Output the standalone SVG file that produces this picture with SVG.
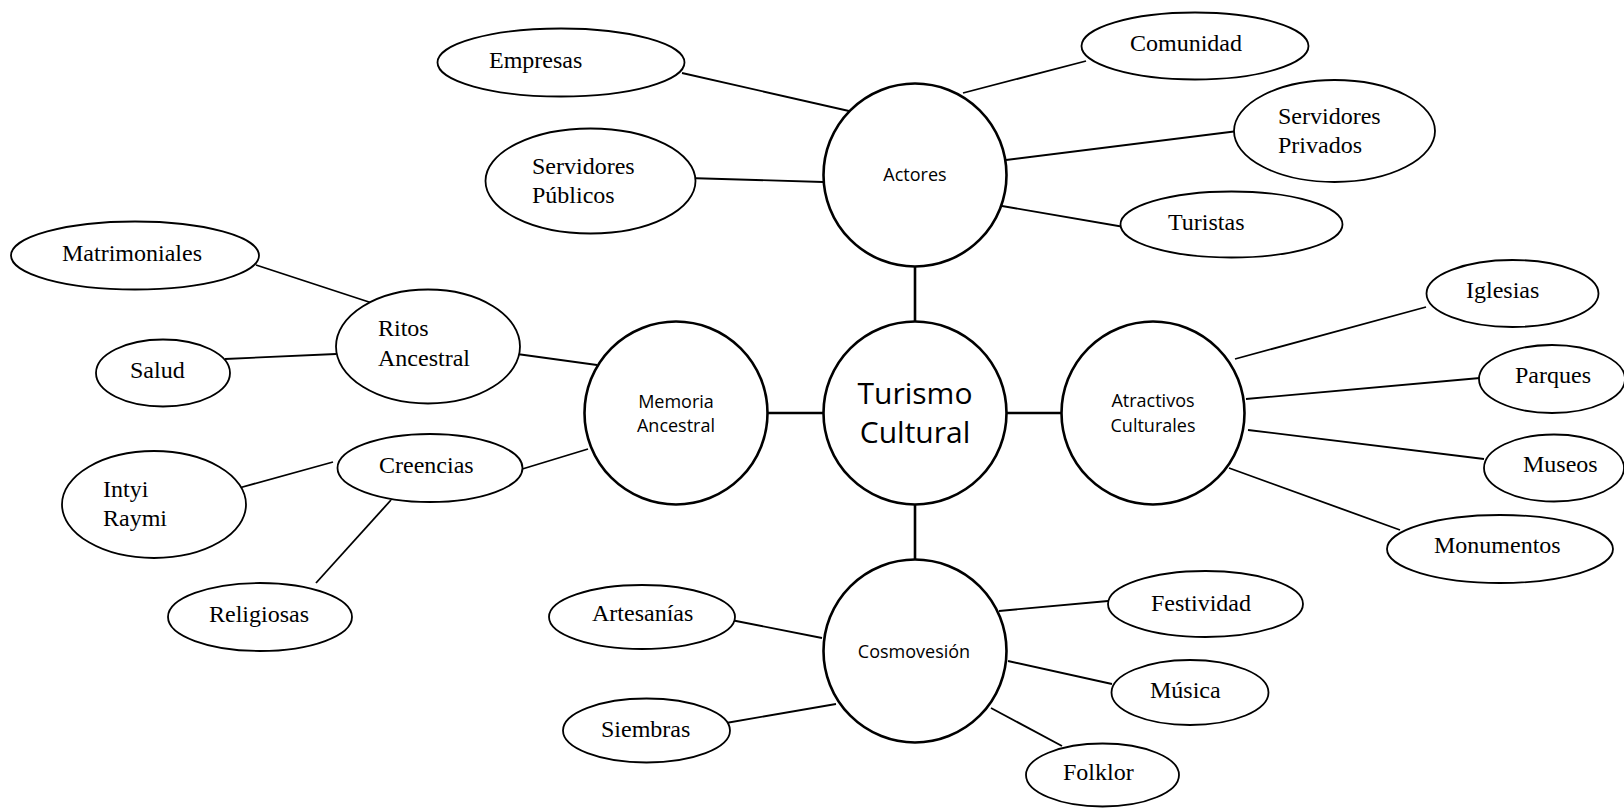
<svg xmlns="http://www.w3.org/2000/svg" width="1624" height="808" viewBox="0 0 1624 808">
<style>
.big{fill:#fff;stroke:#000;stroke-width:2.6}
.sm{fill:#fff;stroke:#000;stroke-width:1.8}
.c{stroke:#000;stroke-width:1.8;fill:none}
.cb{stroke:#000;stroke-width:2.6;fill:none}
.s{font-family:"Open Sans","Noto Sans",sans-serif;font-size:18px;fill:#000;text-anchor:middle}
.t{font-family:"Liberation Serif","Times New Roman",serif;font-size:24px;fill:#000}
.h{font-family:"Open Sans","Noto Sans",sans-serif;font-size:30px;fill:#000;text-anchor:middle}
</style>
<rect width="1624" height="808" fill="#fff"/>
<g id="connectors">
<line class="cb" x1="915" y1="266" x2="915" y2="322"/>
<line class="cb" x1="915" y1="505" x2="915" y2="560"/>
<line class="cb" x1="767" y1="413" x2="823" y2="413"/>
<line class="cb" x1="1006" y1="413" x2="1061" y2="413"/>
<line class="c" x1="682" y1="73" x2="849" y2="111"/>
<line class="c" x1="688" y1="178" x2="823" y2="182"/>
<line class="c" x1="963" y1="93" x2="1086" y2="61"/>
<line class="c" x1="1006" y1="160" x2="1238" y2="131"/>
<line class="c" x1="1002" y1="206" x2="1130" y2="228"/>
<line class="c" x1="1235" y1="359" x2="1426" y2="307"/>
<line class="c" x1="1246" y1="399" x2="1480" y2="378"/>
<line class="c" x1="1248" y1="430" x2="1484" y2="459"/>
<line class="c" x1="1229" y1="468" x2="1400" y2="530"/>
<line class="c" x1="999" y1="611" x2="1108" y2="601"/>
<line class="c" x1="1008" y1="661" x2="1112" y2="684"/>
<line class="c" x1="991" y1="708" x2="1062" y2="746"/>
<line class="c" x1="731" y1="620" x2="822" y2="638"/>
<line class="c" x1="726" y1="723" x2="836" y2="704"/>
<line class="c" x1="256" y1="265" x2="372" y2="303"/>
<line class="c" x1="225" y1="359" x2="336" y2="354"/>
<line class="c" x1="517" y1="354" x2="597" y2="365"/>
<line class="c" x1="519" y1="470" x2="588" y2="449"/>
<line class="c" x1="239" y1="488" x2="333" y2="462"/>
<line class="c" x1="316" y1="583" x2="391" y2="500"/>
</g>
<g id="turismo"><circle class="big" cx="915" cy="413" r="91.5"/><text class="h" x="915" y="404">Turismo</text><text class="h" x="915" y="443">Cultural</text></g>
<g id="actores"><circle class="big" cx="915" cy="175" r="91.5"/><text class="s" x="915" y="181">Actores</text></g>
<g id="memoria"><circle class="big" cx="676" cy="413" r="91.5"/><text class="s" x="676" y="408">Memoria</text><text class="s" x="676" y="432">Ancestral</text></g>
<g id="atractivos"><circle class="big" cx="1153" cy="413" r="91.5"/><text class="s" x="1153" y="407">Atractivos</text><text class="s" x="1153" y="432">Culturales</text></g>
<g id="cosmovesion"><circle class="big" cx="915" cy="651" r="91.5"/><text class="s" x="914" y="658">Cosmovesión</text></g>
<g id="empresas"><ellipse class="sm" cx="561" cy="62.5" rx="123.5" ry="34"/><text class="t" x="489" y="68">Empresas</text></g>
<g id="serv-publicos"><ellipse class="sm" cx="590.5" cy="181" rx="105" ry="52.5"/><text class="t" x="532" y="174">Servidores</text><text class="t" x="532" y="203">Públicos</text></g>
<g id="comunidad"><ellipse class="sm" cx="1195" cy="46" rx="113.5" ry="33.5"/><text class="t" x="1130" y="51">Comunidad</text></g>
<g id="serv-privados"><ellipse class="sm" cx="1334.5" cy="131" rx="100.5" ry="51"/><text class="t" x="1278" y="124">Servidores</text><text class="t" x="1278" y="153">Privados</text></g>
<g id="turistas"><ellipse class="sm" cx="1231.5" cy="224.5" rx="111" ry="33"/><text class="t" x="1168" y="230">Turistas</text></g>
<g id="iglesias"><ellipse class="sm" cx="1512.5" cy="293.5" rx="86" ry="33.5"/><text class="t" x="1466" y="298">Iglesias</text></g>
<g id="parques"><ellipse class="sm" cx="1552" cy="379" rx="73" ry="34"/><text class="t" x="1515" y="383">Parques</text></g>
<g id="museos"><ellipse class="sm" cx="1554" cy="468" rx="70" ry="33.5"/><text class="t" x="1523" y="472">Museos</text></g>
<g id="monumentos"><ellipse class="sm" cx="1500" cy="549" rx="113" ry="34"/><text class="t" x="1434" y="553">Monumentos</text></g>
<g id="festividad"><ellipse class="sm" cx="1205.5" cy="604" rx="97.5" ry="33"/><text class="t" x="1151" y="611">Festividad</text></g>
<g id="musica"><ellipse class="sm" cx="1190" cy="692.5" rx="78.5" ry="32.5"/><text class="t" x="1150" y="698">Música</text></g>
<g id="folklor"><ellipse class="sm" cx="1102.5" cy="775" rx="76.5" ry="31.5"/><text class="t" x="1063" y="780">Folklor</text></g>
<g id="artesanias"><ellipse class="sm" cx="642" cy="617" rx="93" ry="32"/><text class="t" x="592" y="621">Artesanías</text></g>
<g id="siembras"><ellipse class="sm" cx="646.5" cy="730.5" rx="83.5" ry="32"/><text class="t" x="601" y="737">Siembras</text></g>
<g id="matrimoniales"><ellipse class="sm" cx="135" cy="255.5" rx="124" ry="34"/><text class="t" x="62" y="261">Matrimoniales</text></g>
<g id="ritos"><ellipse class="sm" cx="428" cy="346.5" rx="92" ry="57"/><text class="t" x="378" y="336">Ritos</text><text class="t" x="378" y="366">Ancestral</text></g>
<g id="salud"><ellipse class="sm" cx="163" cy="373" rx="67" ry="33.5"/><text class="t" x="130" y="378">Salud</text></g>
<g id="creencias"><ellipse class="sm" cx="430" cy="468" rx="92.5" ry="34"/><text class="t" x="379" y="473">Creencias</text></g>
<g id="intyi"><ellipse class="sm" cx="154" cy="504.5" rx="92" ry="53.5"/><text class="t" x="103" y="497">Intyi</text><text class="t" x="103" y="526">Raymi</text></g>
<g id="religiosas"><ellipse class="sm" cx="260" cy="617" rx="92" ry="34"/><text class="t" x="209" y="622">Religiosas</text></g>
</svg>
